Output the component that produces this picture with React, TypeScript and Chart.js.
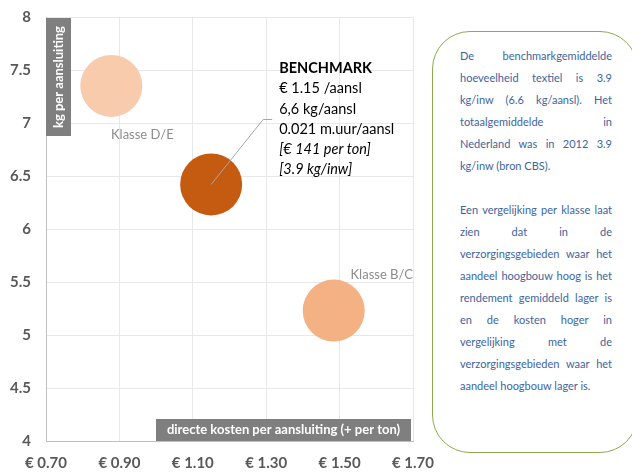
import React, { useEffect, useRef } from "react";
import { Chart, registerables } from "chart.js";

Chart.register(...registerables);

// ---- data ----
const seriesNames = ["Klasse D/E", "Benchmark", "Klasse B/C"];
const costPerConnection = [0.878, 1.15, 1.484];
const kgPerConnection = [7.35, 6.42, 5.23];
const bubbleRadius = [31, 31, 31];
const bubbleColors = ["#F8CBAD", "#C55A11", "#F4B183"];
const xTickValues = [0.7, 0.9, 1.1, 1.3, 1.5, 1.7];
const yTickValues = [4, 4.5, 5, 5.5, 6, 6.5, 7, 7.5, 8];
const benchmarkLines = [
  "BENCHMARK",
  "€ 1.15 /aansl",
  "6,6 kg/aansl",
  "0.021 m.uur/aansl",
  "[€ 141 per ton]",
  "[3.9 kg/inw]",
];
const yAxisTitle = "kg per aansluiting";
const xAxisTitle = "directe kosten per aansluiting (+ per ton)";
const noteLines = [
  "De benchmarkgemiddelde",
  "hoeveelheid textiel is 3.9",
  "kg/inw (6.6 kg/aansl). Het",
  "totaalgemiddelde in",
  "Nederland was in 2012 3.9",
  "kg/inw (bron CBS).",
  "",
  "Een vergelijking per klasse laat",
  "zien dat in de",
  "verzorgingsgebieden waar het",
  "aandeel hoogbouw hoog is het",
  "rendement gemiddeld lager is",
  "en de kosten hoger in",
  "vergelijking met de",
  "verzorgingsgebieden waar het",
  "aandeel hoogbouw lager is.",
];
const noteLastLines = [5, 15];

const FONT = "Lato, 'Open Sans', sans-serif";
const TICK_COLOR = "#595959";

const overlayPlugin = {
  id: "overlay",
  afterDatasetsDraw(chart: any) {
    const ctx = chart.ctx;
    const area = chart.chartArea;
    const xs = chart.scales.x;
    ctx.save();

    // category labels
    ctx.font = `13px ${FONT}`;
    ctx.fillStyle = "#8C8C8C";
    ctx.textAlign = "center";
    ctx.textBaseline = "middle";
    const de = chart.getDatasetMeta(0).data[0];
    ctx.fillText(seriesNames[0], de.x + 31, de.y + 49);
    const bc = chart.getDatasetMeta(2).data[0];
    ctx.fillText(seriesNames[2], bc.x + 48, bc.y - 36);

    // benchmark leader line + label
    const bm = chart.getDatasetMeta(1).data[0];
    ctx.strokeStyle = "#A6A6A6";
    ctx.lineWidth = 1;
    ctx.beginPath();
    ctx.moveTo(bm.x, bm.y);
    ctx.lineTo(bm.x + 52, bm.y - 65);
    ctx.lineTo(bm.x + 61, bm.y - 65);
    ctx.stroke();

    ctx.textAlign = "left";
    ctx.fillStyle = "#000000";
    benchmarkLines.forEach((line, i) => {
      const weight = i === 0 ? "bold " : "";
      const style = i >= 4 ? "italic " : "";
      ctx.font = `${style}${weight}14.5px ${FONT}`;
      ctx.fillText(line, bm.x + 68, bm.y - 116 + i * 20.2);
    });

    // y-axis title box
    ctx.fillStyle = "#7F7F7F";
    ctx.fillRect(area.left, area.top + 1, 25, 118);
    ctx.save();
    ctx.translate(area.left + 12.5, area.top + 60);
    ctx.rotate(-Math.PI / 2);
    ctx.fillStyle = "#FFFFFF";
    ctx.font = `bold 13px ${FONT}`;
    ctx.textAlign = "center";
    ctx.textBaseline = "middle";
    ctx.fillText(yAxisTitle, 0, 0);
    ctx.restore();

    // x-axis title box
    ctx.fillStyle = "#7F7F7F";
    ctx.fillRect(156, area.bottom - 22, 255, 22);
    ctx.fillStyle = "#FFFFFF";
    ctx.font = `bold 13px ${FONT}`;
    ctx.textAlign = "center";
    ctx.textBaseline = "middle";
    ctx.fillText(xAxisTitle, 156 + 127.5, area.bottom - 11);

    // x tick labels
    ctx.font = `bold 15px ${FONT}`;
    ctx.fillStyle = TICK_COLOR;
    xTickValues.forEach((v) => {
      const label = "€ " + v.toFixed(2);
      const w = ctx.measureText(label).width;
      const px = Math.max(xs.getPixelForValue(v), 7 + w / 2);
      ctx.fillText(label, px, 463);
    });

    ctx.restore();
  },
};

export default function App() {
  const canvasRef = useRef<HTMLCanvasElement>(null);

  useEffect(() => {
    const canvas = canvasRef.current;
    if (!canvas) return;
    const chart = new Chart(canvas, {
      type: "bubble",
      data: {
        datasets: seriesNames.map((name, i) => ({
          label: name,
          data: [{ x: costPerConnection[i], y: kgPerConnection[i], r: bubbleRadius[i] }],
          backgroundColor: bubbleColors[i],
          borderWidth: 0,
        })),
      },
      options: {
        responsive: false,
        animation: false,
        events: [],
        layout: { autoPadding: false, padding: { top: 17, right: 219, left: 0, bottom: 0 } },
        plugins: {
          legend: { display: false },
          tooltip: { enabled: false },
        },
        scales: {
          x: {
            type: "linear",
            min: 0.7,
            max: 1.7,
            afterBuildTicks: (scale: any) => {
              scale.ticks = xTickValues.map((v) => ({ value: v }));
            },
            afterFit: (scale: any) => {
              scale.height = 32;
              scale.paddingLeft = 0;
              scale.paddingRight = 0;
            },
            ticks: { display: false },
            grid: { color: "#E8E8E8", drawTicks: false, lineWidth: 1 },
            border: { display: true, color: "#BFBFBF", width: 1 },
          },
          y: {
            type: "linear",
            min: 4,
            max: 8,
            afterBuildTicks: (scale: any) => {
              scale.ticks = yTickValues.map((v) => ({ value: v }));
            },
            afterFit: (scale: any) => {
              scale.width = 46;
              scale.paddingTop = 0;
              scale.paddingBottom = 0;
            },
            ticks: {
              padding: 15,
              color: TICK_COLOR,
              font: { family: FONT, size: 15, weight: "bold" },
              callback: (v: any) => String(v),
            },
            grid: { color: "#E8E8E8", drawTicks: false, lineWidth: 1 },
            border: { display: true, color: "#BFBFBF", width: 1 },
          },
        },
      } as any,
      plugins: [overlayPlugin],
    });
    return () => chart.destroy();
  }, []);

  return (
    <div
      style={{
        position: "absolute",
        left: 0,
        top: 0,
        width: 632,
        height: 473,
        overflow: "hidden",
        background: "#FFFFFF",
      }}
    >
      <canvas
        ref={canvasRef}
        width={632}
        height={473}
        style={{ position: "absolute", left: 0, top: 0, width: 632, height: 473 }}
      />
      <div
        style={{
          position: "absolute",
          left: 432,
          top: 31,
          width: 206,
          height: 422,
          border: "1.3px solid #8EA94E",
          borderRadius: 38,
          boxSizing: "border-box",
          background: "#FFFFFF",
        }}
      />
      {noteLines.map((line, i) =>
        line ? (
          <div
            key={i}
            style={{
              position: "absolute",
              left: 460,
              top: 56 + i * 22 - 8,
              width: 152,
              height: 16,
              lineHeight: "16px",
              fontFamily: FONT,
              fontSize: 11,
              color: "#3E64A0",
              whiteSpace: "nowrap",
              textAlign: noteLastLines.includes(i) ? "left" : "justify",
              textAlignLast: noteLastLines.includes(i) ? "left" : "justify",
            } as any}
          >
            {line}
          </div>
        ) : null
      )}
    </div>
  );
}
